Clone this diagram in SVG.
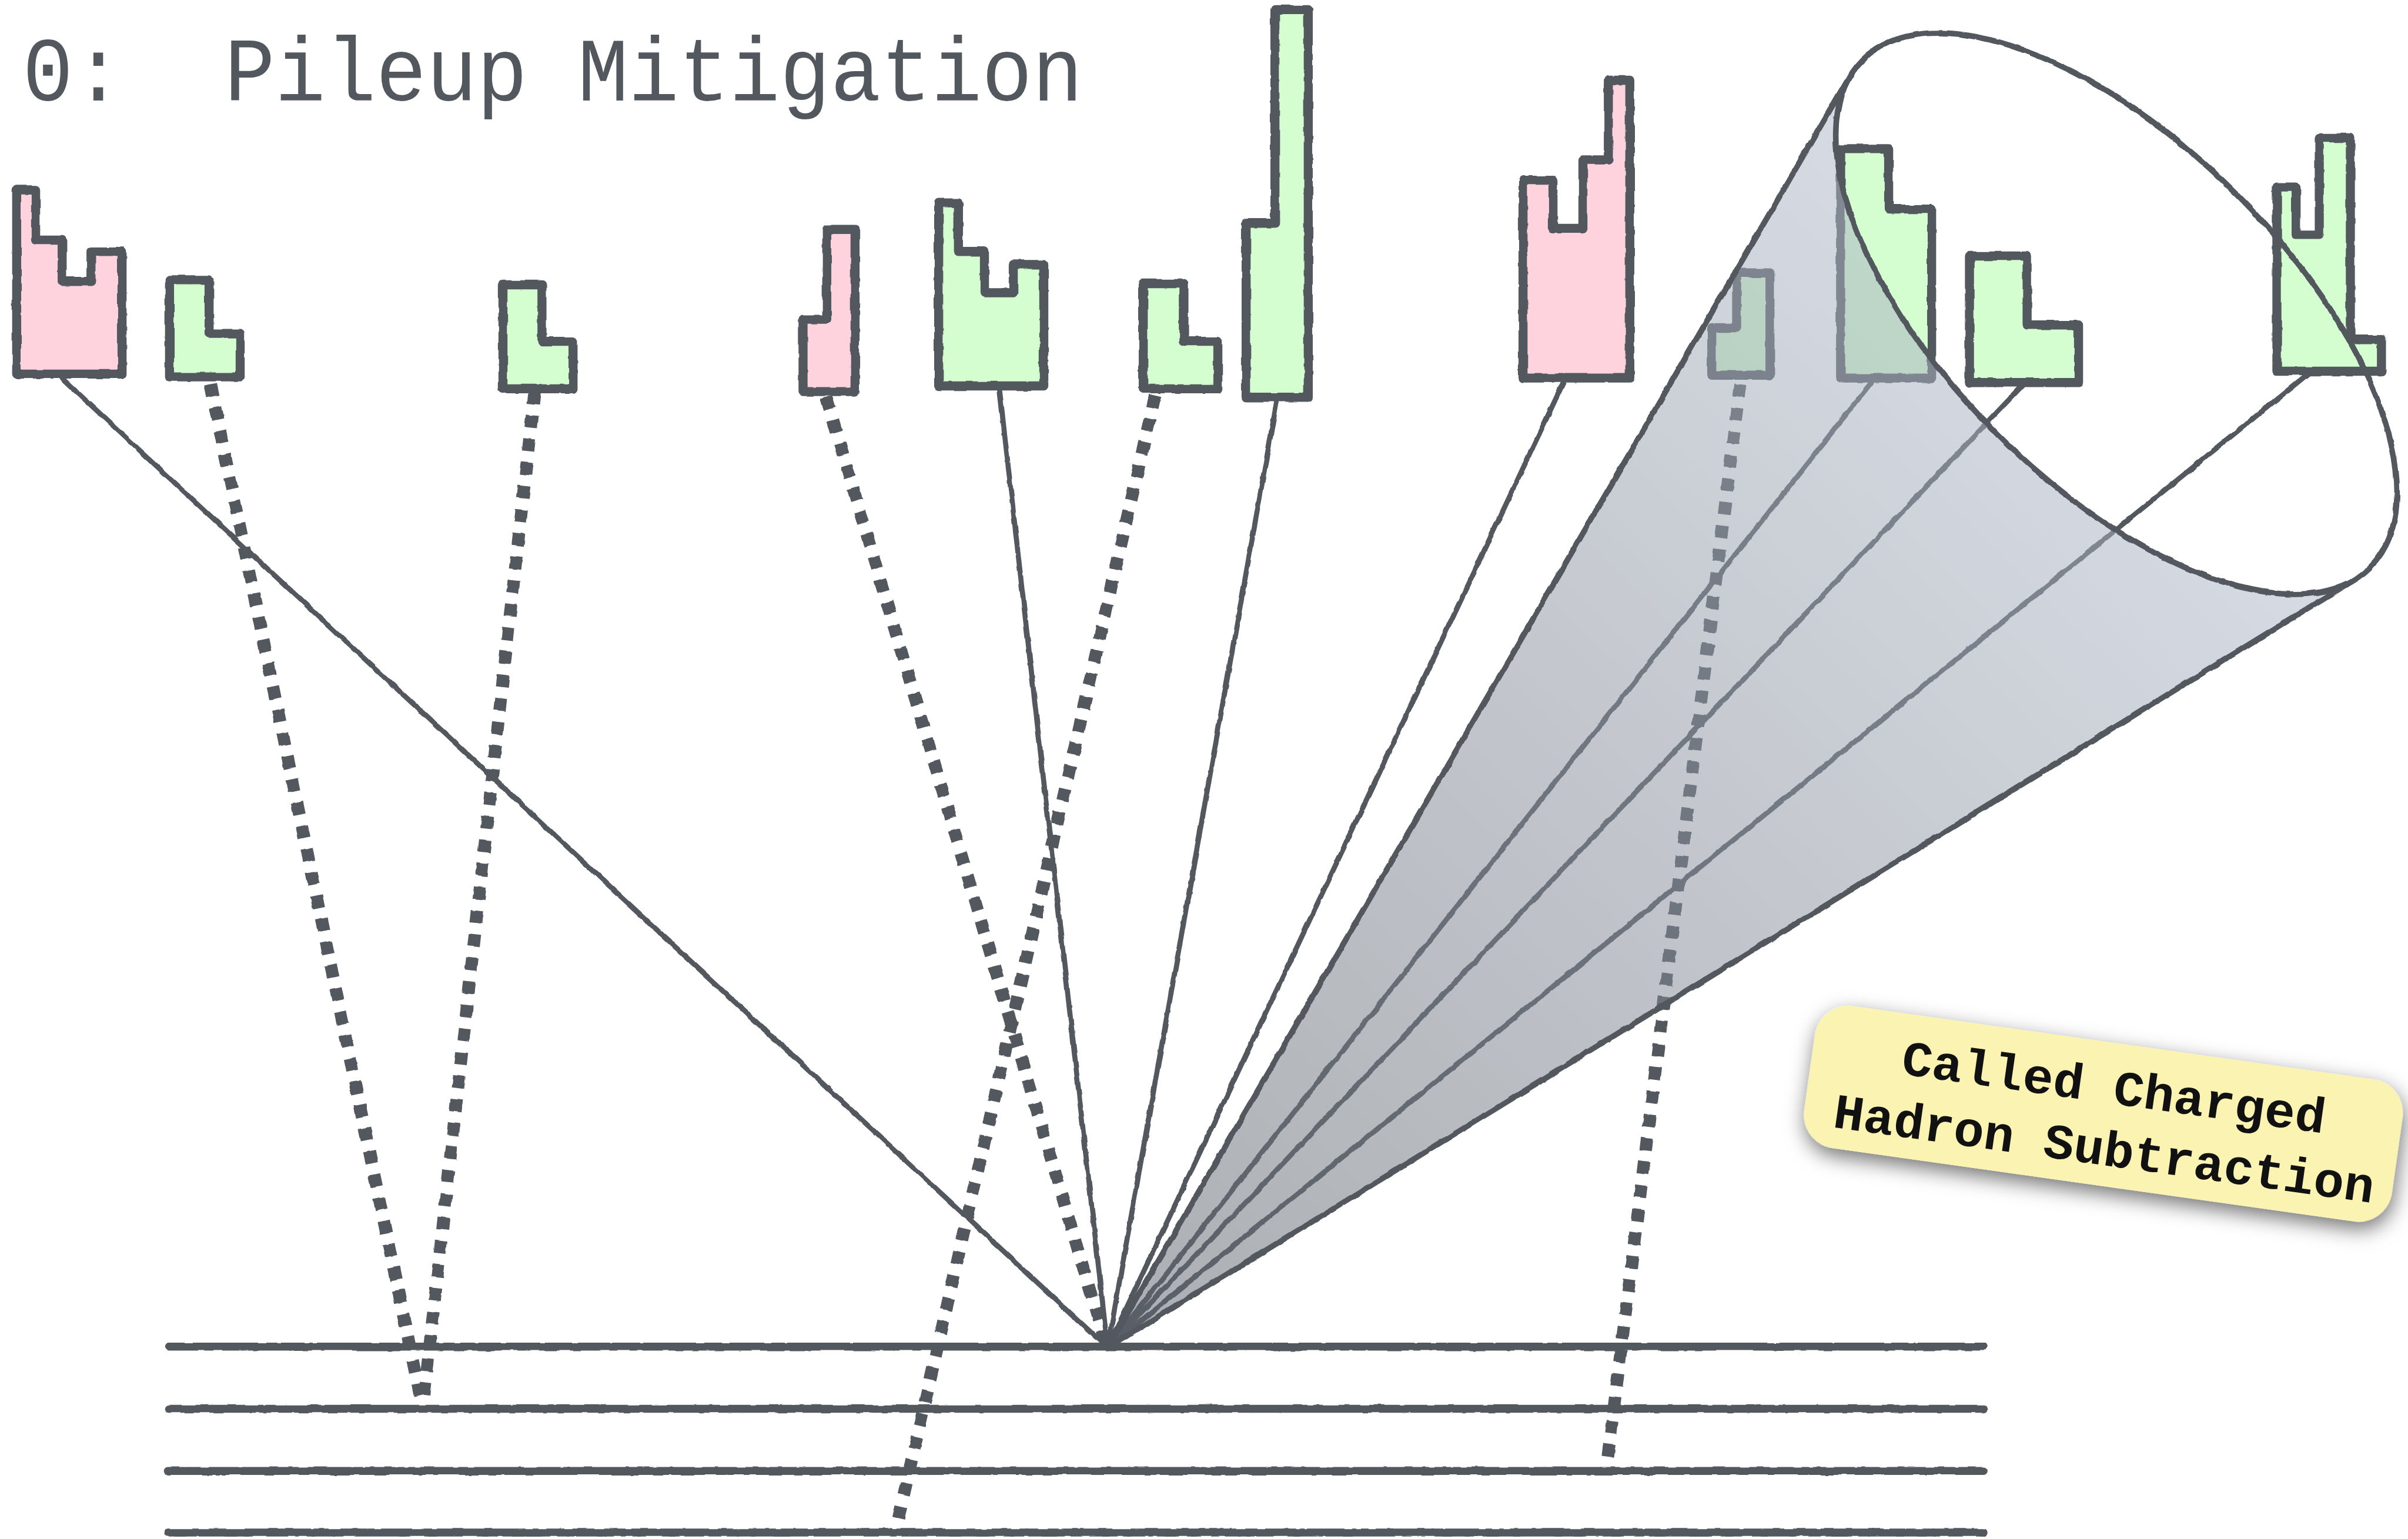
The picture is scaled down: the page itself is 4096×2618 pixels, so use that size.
<svg xmlns="http://www.w3.org/2000/svg" width="4096" height="2618" viewBox="0 0 4096 2618">
  <defs>
    <style>
      .ink { stroke: #53585f; fill: none; stroke-linecap: round; stroke-linejoin: round; }
      .track { stroke-width: 14; }
      .ray { stroke-width: 9; }
      .dots { stroke: #53585f; fill: none; stroke-width: 22; stroke-dasharray: 22 20; stroke-linecap: butt; }
      .tower { stroke: #53585f; stroke-width: 16; stroke-linejoin: round; }
      .pink { fill: #fed3dd; }
      .green { fill: #d4fdd0; }
      .edge { stroke: #53585f; fill: none; stroke-width: 10; stroke-linecap: round; stroke-linejoin: round; }
      .title { font-family: "Liberation Mono", "DejaVu Sans Mono", monospace; font-size: 160px; fill: #53585f; white-space: pre; }
      .note-text { font-family: "Liberation Mono", "DejaVu Sans Mono", monospace; font-weight: bold; font-size: 88px; fill: #111111; text-anchor: middle; }
    </style>
    <linearGradient id="coneFill" gradientUnits="userSpaceOnUse" x1="1960" y1="2385" x2="3745" y2="555">
      <stop offset="0" stop-color="#5e646c"/>
      <stop offset="1" stop-color="#b3bccb"/>
    </linearGradient>
    <!-- slight hand-drawn wobble for the ink strokes -->
    <filter id="rough" x="-2%" y="-2%" width="104%" height="104%">
      <feTurbulence type="fractalNoise" baseFrequency="0.04" numOctaves="2" seed="3" result="noise"/>
      <feDisplacementMap in="SourceGraphic" in2="noise" scale="5" xChannelSelector="R" yChannelSelector="G"/>
    </filter>
    <filter id="noteShadow" x="-20%" y="-40%" width="140%" height="180%">
      <feGaussianBlur in="SourceAlpha" stdDeviation="18"/>
      <feOffset dx="4" dy="12" result="blur"/>
      <feFlood flood-color="#000000" flood-opacity="0.55"/>
      <feComposite in2="blur" operator="in"/>
      <feMerge>
        <feMergeNode/>
        <feMergeNode in="SourceGraphic"/>
      </feMerge>
    </filter>
  </defs>

  <rect width="4096" height="2618" fill="#ffffff"/>

  <g transform="scale(0.96128)">
    <!-- title -->
    <text class="title" x="40" y="178" textLength="1876" lengthAdjust="spacingAndGlyphs" xml:space="preserve">0:  Pileup Mitigation</text>

    <!-- detector layers -->
    <g id="layers" class="ink track" filter="url(#rough)">
      <line x1="298" y1="2383" x2="3510" y2="2383"/>
      <line x1="298" y1="2493" x2="3510" y2="2493"/>
      <line x1="298" y1="2603" x2="3510" y2="2603"/>
      <line x1="298" y1="2712" x2="3510" y2="2712"/>
    </g>

    <!-- tracks from the towers -->
    <g id="connectors" filter="url(#rough)">
      <g class="ink ray">
        <line x1="107" y1="667" x2="1960" y2="2385"/>
        <line x1="1769" y1="692" x2="1960" y2="2385"/>
        <line x1="2260" y1="706" x2="1960" y2="2385"/>
        <line x1="2767" y1="676" x2="1960" y2="2385"/>
        <line x1="3312" y1="676" x2="1960" y2="2385"/>
        <line x1="3579" y1="682" x2="1960" y2="2385"/>
        <line x1="4085" y1="661" x2="1960" y2="2385"/>
      </g>
      <g class="dots">
        <line x1="372" y1="680" x2="748" y2="2493"/>
        <line x1="946" y1="693" x2="748" y2="2493"/>
        <line x1="1462" y1="703" x2="1956" y2="2376"/>
        <line x1="2044" y1="700" x2="1584" y2="2712"/>
        <line x1="3079" y1="680" x2="2842" y2="2603"/>
      </g>
    </g>

    <!-- calorimeter towers -->
    <g id="towers" filter="url(#rough)">
      <g id="tower-1"><path class="tower pink" d="M29.5,662 V336 H63 V425 H110 V498 H161 V445 H216 V662 Z"/></g>
      <g id="tower-2"><path class="tower green" d="M300,667 V495 H370 V590 H425 V667 Z"/></g>
      <g id="tower-3"><path class="tower green" d="M890,688 V504 H959 V604 H1014 V688 Z"/></g>
      <g id="tower-4"><path class="tower pink" d="M1421,693 V565 H1463 V406 H1513 V693 Z"/></g>
      <g id="tower-5"><path class="tower green" d="M1661,683 V359 H1696 V445 H1742 V518 H1793 V468 H1847 V683 Z"/></g>
      <g id="tower-6"><path class="tower green" d="M2023,688 V502 H2095 V604 H2155 V688 Z"/></g>
      <g id="tower-7"><path class="tower green" d="M2205,703 V395 H2256 V17 H2315 V703 Z"/></g>
      <g id="tower-8"><path class="tower pink" d="M2695,669 V319 H2748 V404 H2801 V283 H2846 V142 H2884 V669 Z"/></g>
      <g id="tower-9"><path class="tower green" d="M3029,664 V580 H3073 V483 H3132 V664 Z"/></g>
      <g id="tower-10"><path class="tower green" d="M3257,669 V263 H3342 V370 H3418 V669 Z"/></g>
      <g id="tower-11"><path class="tower green" d="M3485,677 V453 H3587 V575 H3678 V677 Z"/></g>
      <g id="tower-12"><path class="tower green" d="M4029,657 V331 H4063 V415 H4104 V244 H4159 V601 H4214 V657 Z"/></g>
    </g>

    <!-- jet cone -->
    <g id="jet-cone">
      <path d="M1960,2385 L3273,135 A635,300 45 0 0 4167,1025 Z" fill="url(#coneFill)" fill-opacity="0.52"/>
      <g filter="url(#rough)">
        <path class="edge" d="M3273,135 L1960,2385 L4167,1025"/>
        <ellipse class="edge" cx="3745" cy="555" rx="635" ry="300" transform="rotate(45 3745 555)"/>
      </g>
    </g>

    <!-- note -->
    <g id="note" transform="translate(3722,1971) rotate(8)">
      <rect x="-525" y="-127" width="1050" height="254" rx="60" ry="60" fill="#fbf3b1" filter="url(#noteShadow)"/>
      <text class="note-text" x="12" y="-20" textLength="756" lengthAdjust="spacingAndGlyphs">Called Charged</text>
      <text class="note-text" x="10" y="90" textLength="965" lengthAdjust="spacingAndGlyphs">Hadron Subtraction</text>
    </g>
  </g>
</svg>
